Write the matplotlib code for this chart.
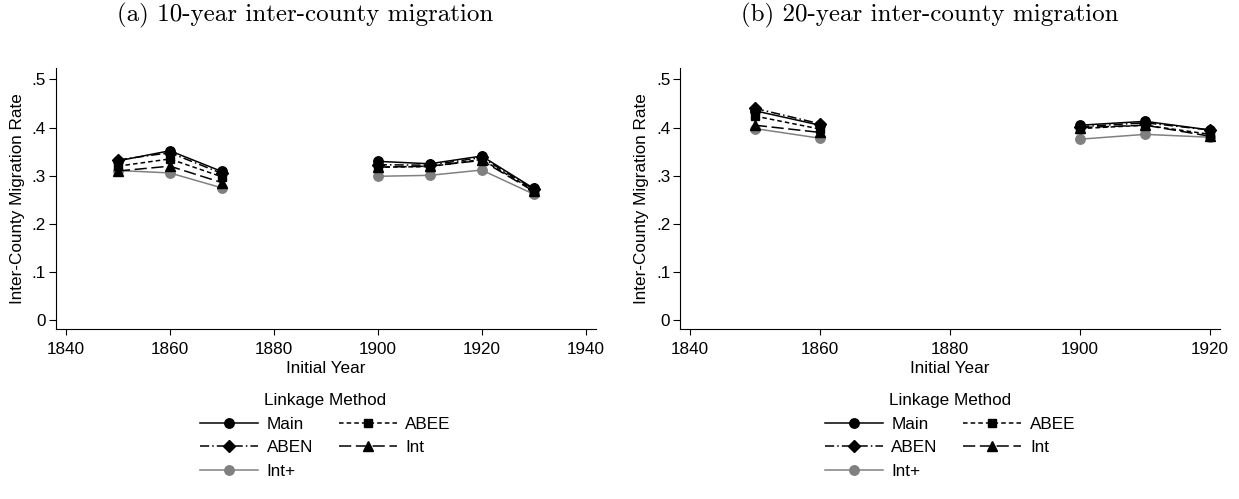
import numpy as np
import matplotlib.pyplot as plt
from matplotlib.lines import Line2D

plt.rcParams['font.family'] = ['Liberation Sans', 'DejaVu Sans']

# 10-year inter-county migration rates (gap = no data)
years10 = [1850, 1860, 1870, 1880, 1890, 1900, 1910, 1920, 1930]
main10 = [0.331, 0.352, 0.309, np.nan, np.nan, 0.330, 0.325, 0.341, 0.274]
abee10 = [0.320, 0.335, 0.298, np.nan, np.nan, 0.318, 0.319, 0.334, 0.270]
aben10 = [0.333, 0.348, 0.305, np.nan, np.nan, 0.323, 0.322, 0.338, 0.272]
int10 = [0.310, 0.320, 0.286, np.nan, np.nan, 0.318, 0.320, 0.332, 0.268]
intp10 = [0.311, 0.306, 0.275, np.nan, np.nan, 0.299, 0.301, 0.312, 0.262]

# 20-year inter-county migration rates
years20 = [1850, 1860, 1870, 1880, 1890, 1900, 1910, 1920]
main20 = [0.435, 0.405, np.nan, np.nan, np.nan, 0.405, 0.413, 0.395]
abee20 = [0.424, 0.397, np.nan, np.nan, np.nan, 0.398, 0.405, 0.386]
aben20 = [0.440, 0.408, np.nan, np.nan, np.nan, 0.402, 0.410, 0.395]
int20 = [0.405, 0.390, np.nan, np.nan, np.nan, 0.400, 0.405, 0.382]
intp20 = [0.398, 0.378, np.nan, np.nan, np.nan, 0.376, 0.386, 0.380]

methods = ["Main", "ABEE", "ABEN", "Int", "Int+"]
styles = {
    "Main": dict(color="black", ls="-", marker="o"),
    "ABEE": dict(color="black", ls=(0, (3, 2)), marker="s"),
    "ABEN": dict(color="black", ls=(0, (6, 2, 1, 2)), marker="D"),
    "Int": dict(color="black", ls=(0, (8, 3)), marker="^"),
    "Int+": dict(color="#808080", ls="-", marker="o"),
}
msize = {"o": 6.8, "s": 6.2, "D": 6.2, "^": 7.2}
FS = 12.3

W, H = 1239, 499
fig = plt.figure(figsize=(W / 100, H / 100), dpi=100)
ax1 = fig.add_axes([55.5 / W, 1 - 329 / H, 540 / W, 260.7 / H])
ax2 = fig.add_axes([680 / W, 1 - 329 / H, 540 / W, 260.7 / H])

panels = [
    (ax1, years10, [main10, abee10, aben10, int10, intp10],
     "(a) 10-year inter-county migration", (1838.0, 1941.9), [1840, 1860, 1880, 1900, 1920, 1940]),
    (ax2, years20, [main20, abee20, aben20, int20, intp20],
     "(b) 20-year inter-county migration", (1838.5, 1921.5), [1840, 1860, 1880, 1900, 1920]),
]

for ax, yrs, series, title, xlim, xt in panels:
    for name, vals in reversed(list(zip(methods, series))):
        st = styles[name]
        ax.plot(yrs, vals, color=st["color"], linestyle=st["ls"], lw=1.1,
                marker=st["marker"], markersize=msize[st["marker"]],
                markerfacecolor=st["color"], markeredgecolor=st["color"])
    ax.set_xlim(*xlim)
    ax.set_ylim(-0.0177, 0.523)
    ax.set_xticks(xt)
    ax.set_yticks([0, 0.1, 0.2, 0.3, 0.4, 0.5])
    ax.set_yticklabels(["0", ".1", ".2", ".3", ".4", ".5"])
    ax.tick_params(axis="x", labelsize=FS, length=4, width=0.8, pad=5)
    ax.tick_params(axis="y", labelsize=FS, length=5, width=0.8, pad=2)
    ax.spines["top"].set_visible(False)
    ax.spines["right"].set_visible(False)
    ax.set_xlabel("Initial Year", fontsize=FS, labelpad=3.3)
    ax.set_ylabel("Inter-County Migration Rate", fontsize=FS, labelpad=5)
    pos = ax.get_position()
    # subgraph title sits a little left of the plot region's centre
    fig.text((pos.x0 + pos.x1) / 2 - 20 / W, 1 - 21 / H, title, family="cmr10",
             fontsize=18, ha="center", va="baseline")

    # legend laid out row-wise: Main/ABEE, ABEN/Int, Int+
    order = ["Main", "ABEN", "Int+", "ABEE", "Int"]
    handles = [Line2D([], [], color=styles[n]["color"], linestyle=styles[n]["ls"], lw=1.1,
                      marker=styles[n]["marker"], markersize=msize[styles[n]["marker"]])
               for n in order]
    ax.legend(handles, order, title="Linkage Method", ncol=2, frameon=False,
              loc="upper center", bbox_to_anchor=(0.5, -0.2465),
              fontsize=FS, title_fontsize=FS, handlelength=3.4, columnspacing=1.5,
              labelspacing=0.5, handletextpad=0.5, borderaxespad=0, borderpad=0)

fig.savefig("out.png", dpi=100)
